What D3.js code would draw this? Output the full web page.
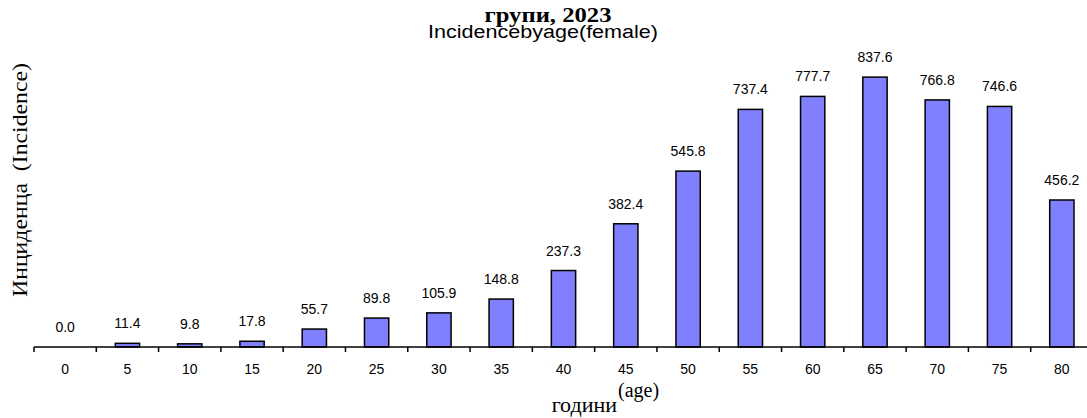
<!DOCTYPE html>
<html>
<head>
<meta charset="utf-8">
<script src="https://cdn.jsdelivr.net/npm/d3@7"></script>
<style>
  body { margin: 0; background: #fff; }
  svg { display: block; }
</style>
</head>
<body>
<div id="chart"></div>
<script>
(function incidenceChart(){

  // data
  var ages = ['0', '5', '10', '15', '20', '25', '30', '35', '40', '45', '50', '55', '60', '65', '70', '75', '80'];
  var incidence = [0.0, 11.4, 9.8, 17.8, 55.7, 89.8, 105.9, 148.8, 237.3, 382.4, 545.8, 737.4, 777.7, 837.6, 766.8, 746.6, 456.2];
  var titleLines = ['групи, 2023', 'Incidencebyage(female)'];

  var rows = ages.map(function(a, i){ return {age: a, value: incidence[i]}; });

  var W = 1087, H = 418,
      left = 34, right = 1093,
      base = 347;

  var x = d3.scaleBand().domain(ages).range([left, right]).paddingInner(0.61).paddingOuter(0.305);
  var y = d3.scaleLinear().domain([0, 900]).range([base, base - 290]);

  var svg = d3.select('#chart').append('svg')
      .attr('width', W)
      .attr('height', H);

  // bars
  svg.selectAll('rect.bar')
      .data(rows)
      .enter()
      .append('rect')
      .attr('class', 'bar')
      .attr('x', function(d){ return x(d.age); })
      .attr('y', function(d){ return y(d.value); })
      .attr('width', x.bandwidth())
      .attr('height', function(d){ return base - y(d.value); })
      .attr('fill', '#8080ff')
      .attr('stroke', '#000')
      .attr('stroke-width', 1.5);

  // value labels
  svg.selectAll('text.val')
      .data(rows)
      .enter()
      .append('text')
      .attr('class', 'val')
      .attr('x', function(d){ return x(d.age) + x.bandwidth() / 2; })
      .attr('y', function(d){ return y(d.value) - 15; })
      .attr('text-anchor', 'middle')
      .style('font-family', 'Liberation Sans, Arial, sans-serif')
      .style('font-size', '14px')
      .text(function(d){ return d.value.toFixed(1); });

  // x axis: ticks between categories
  var step = x.step();
  var boundaries = d3.range(ages.length + 1).map(function(i){ return left + i * step; });

  svg.append('line')
      .attr('x1', left).attr('x2', right)
      .attr('y1', base).attr('y2', base)
      .attr('stroke', '#000').attr('stroke-width', 1.5);

  svg.selectAll('line.tick')
      .data(boundaries)
      .enter()
      .append('line')
      .attr('class', 'tick')
      .attr('x1', function(d){ return d; }).attr('x2', function(d){ return d; })
      .attr('y1', base).attr('y2', base + 5)
      .attr('stroke', '#000').attr('stroke-width', 1.5);

  svg.selectAll('text.cat')
      .data(ages)
      .enter()
      .append('text')
      .attr('class', 'cat')
      .attr('x', function(d){ return x(d) + x.bandwidth() / 2; })
      .attr('y', 374)
      .attr('text-anchor', 'middle')
      .style('font-family', 'Liberation Sans, Arial, sans-serif')
      .style('font-size', '14px')
      .text(function(d){ return d; });

  // x axis title (word + raised bracket)
  svg.append('text')
      .attr('x', 617)
      .attr('y', 412)
      .attr('text-anchor', 'end')
      .style('font-family', 'Liberation Serif, Times New Roman, serif')
      .style('font-size', '22px')
      .text('години');

  svg.append('text')
      .attr('x', 618)
      .attr('y', 397)
      .style('font-family', 'Liberation Serif, Times New Roman, serif')
      .style('font-size', '20px')
      .text('(age)');

  // y axis title
  svg.append('text')
      .attr('transform', 'translate(27,180) rotate(-90)')
      .attr('text-anchor', 'middle')
      .attr('textLength', 234)
      .attr('lengthAdjust', 'spacingAndGlyphs')
      .style('font-family', 'Liberation Serif, Times New Roman, serif')
      .style('font-size', '21px')
      .style('white-space', 'pre')
      .text('Инциденца  (Incidence)');

  // title
  svg.append('text')
      .attr('x', 548)
      .attr('y', 22)
      .attr('text-anchor', 'middle')
      .attr('textLength', 127)
      .attr('lengthAdjust', 'spacingAndGlyphs')
      .style('font-family', 'Liberation Serif, Times New Roman, serif')
      .style('font-size', '20px')
      .style('font-weight', 'bold')
      .text(titleLines[0]);

  svg.append('text')
      .attr('x', 543)
      .attr('y', 38)
      .attr('text-anchor', 'middle')
      .attr('textLength', 230)
      .attr('lengthAdjust', 'spacingAndGlyphs')
      .style('font-family', 'Liberation Sans, Arial, sans-serif')
      .style('font-size', '18px')
      .text(titleLines[1]);

})();
</script>
</body>
</html>
